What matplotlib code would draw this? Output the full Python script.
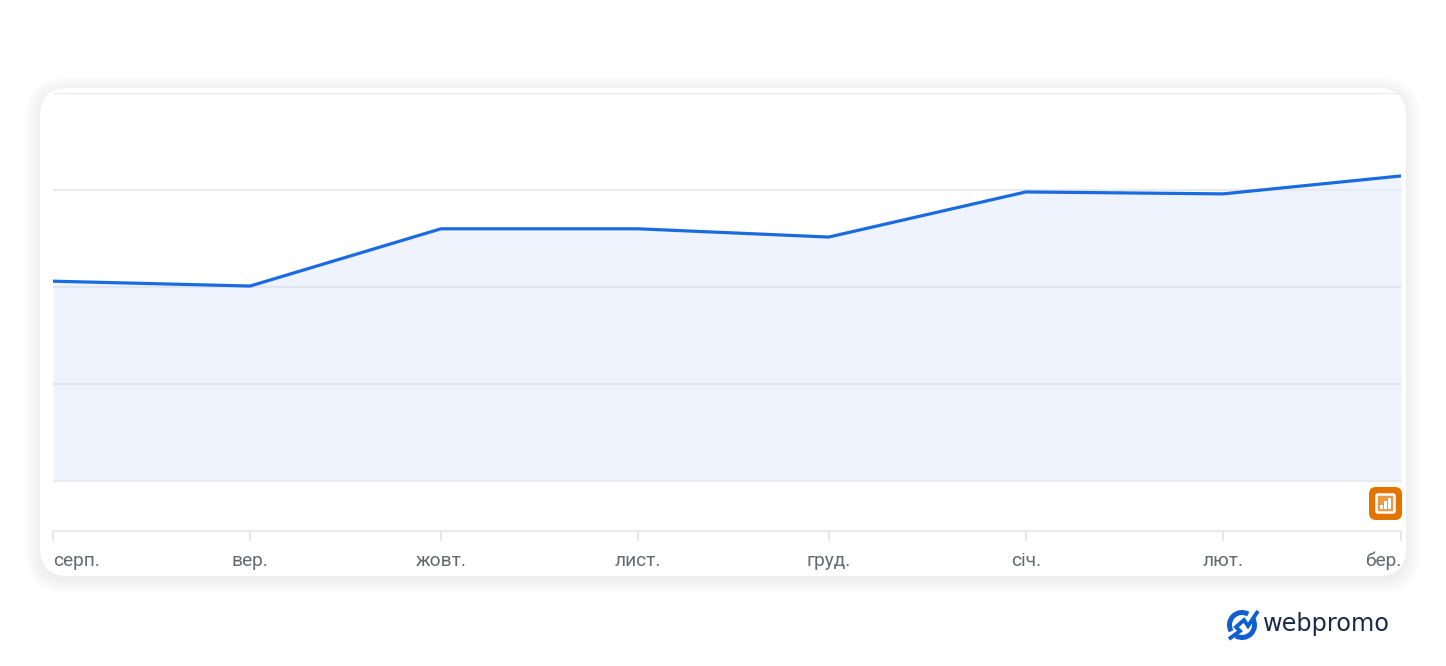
import matplotlib
matplotlib.use("Agg")
import matplotlib.pyplot as plt
from matplotlib.patches import FancyBboxPatch, Arc, Rectangle
import pandas as pd

# values (no y labels in the original, so units are grid steps)
dates = ["2022-08-01", "2022-09-01", "2022-10-01", "2022-11-01", "2022-12-01",
         "2023-01-01", "2023-02-01", "2023-03-01"]
values = [2.06, 2.01, 2.60, 2.60, 2.515, 2.98, 2.96, 3.145]
month_labels = ["серп.", "вер.", "жовт.", "лист.", "груд.", "січ.", "лют.", "бер."]
grid_levels = [0, 1, 2, 3, 4]

W, H = 1446, 666
x = pd.to_datetime(dates)

plt.rcParams['font.family'] = ['Roboto', 'DejaVu Sans']
fig = plt.figure(figsize=(W/100, H/100), dpi=100, facecolor='white')

# background layer in pixel coords: card, shadow, logo
bg = fig.add_axes([0, 0, 1, 1], zorder=0)
bg.set_xlim(0, W)
bg.set_ylim(H, 0)
bg.axis('off')

for i in range(16, 0, -1):
    bg.add_patch(FancyBboxPatch((40-i, 88-i+3), 1366+2*i, 488+2*i,
                                boxstyle="round,pad=0,rounding_size=%d" % (28+i),
                                fc='black', ec='none', alpha=0.0028))
bg.add_patch(FancyBboxPatch((40, 88), 1366, 488, boxstyle="round,pad=0,rounding_size=28",
                            fc='white', ec='none'))

# logo
blue = '#0f5fd0'
bg.add_patch(Arc((1242, 625), 25, 25, theta1=150, theta2=300, color=blue, lw=3.6))
bg.add_patch(Arc((1242, 625), 25, 25, theta1=-30, theta2=120, color=blue, lw=3.6))
bg.plot([1229, 1240, 1236, 1244, 1248, 1258], [639, 631, 627, 620, 626, 611], color=blue, lw=2.8,
        solid_capstyle='butt', solid_joinstyle='miter')
bg.text(1263, 624, "webpromo", fontsize=17.3, family='DejaVu Sans', color='#1b2a49',
        va='center', ha='left')

# chart
ax = fig.add_axes([53/W, 1-531/H, (1401-53)/W, (531-93)/H], zorder=1)
ax.patch.set_alpha(0)
ax.set_xlim(x[0], x[-1])
ax.set_ylim((481-531)/97, 4)

ax.fill_between(x, values, 0, color='#eef3fd', lw=0, zorder=1)
for g in grid_levels:
    col = '#e8eaed' if g in (0, 3, 4) else '#e0e5f1'
    ax.axhline(g, color=col, lw=1.5, zorder=2)
ax.plot(x, values, color='#1a6be0', lw=2.3, zorder=3, solid_capstyle='butt')

for s in ['top', 'left', 'right']:
    ax.spines[s].set_visible(False)
ax.spines['bottom'].set_color('#e8eaed')
ax.spines['bottom'].set_linewidth(1.5)
ax.set_yticks([])
ax.set_xticks(x)
ax.xaxis.set_major_formatter(plt.FixedFormatter(month_labels))
ax.tick_params(axis='x', length=7, width=1.3, color='#e2e4e7', pad=8, labelsize=13.8,
               labelcolor='#666a6e')
labels = ax.get_xticklabels()
labels[0].set_ha('left')
labels[-1].set_ha('right')

# orange badge, sits above the chart
fg = fig.add_axes([0, 0, 1, 1], zorder=2)
fg.set_xlim(0, W)
fg.set_ylim(H, 0)
fg.axis('off')
fg.add_patch(FancyBboxPatch((1369, 487), 33, 33, boxstyle="round,pad=0,rounding_size=7",
                            fc='#e37400', ec='none'))
fg.add_patch(FancyBboxPatch((1376.5, 494.5), 18, 18, boxstyle="round,pad=0,rounding_size=1.5",
                            fc='#ee9a45', ec='white', lw=1.8))
fg.add_patch(Rectangle((1380, 505), 3, 4, fc='white', ec='none'))
fg.add_patch(Rectangle((1384.2, 501), 3, 8, fc='white', ec='none'))
fg.add_patch(Rectangle((1388.4, 498), 3, 11, fc='white', ec='none'))

fig.savefig('out.png', dpi=100)
